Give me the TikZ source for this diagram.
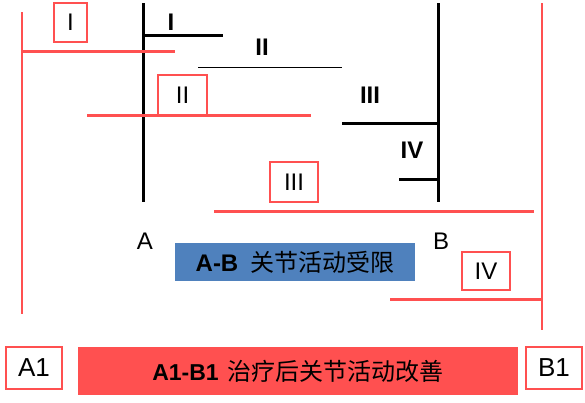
\documentclass[tikz,border=0pt]{standalone}
\usepackage{fontspec}
\setmainfont{Liberation Sans}
\newfontfamily\cjk{Noto Sans CJK SC}
\definecolor{rd}{HTML}{FF5050}
\definecolor{bl}{HTML}{4F81BD}
\begin{document}
\begin{tikzpicture}[x=1pt,y=-1pt,
  blk/.style={line width=3pt},
  thin/.style={line width=1pt},
  rline/.style={draw=rd,line width=3pt},
  rvert/.style={draw=rd,line width=1.5pt},
  rbox/.style={draw=rd,line width=1.3pt,fill=white,inner sep=0pt,font=\fontsize{24}{24}\selectfont},
  blab/.style={font=\fontsize{24}{24}\selectfont\bfseries,inner sep=0pt},
  plab/.style={font=\fontsize{24}{24}\selectfont,inner sep=0pt}]
\useasboundingbox (0,0) rectangle (585,402);
% black structure
\coordinate (At) at (143,3); \coordinate (Ab) at (143,202);
\coordinate (Bt) at (438,3); \coordinate (Bb) at (438,202);
\draw[blk] (At) -- (Ab);
\draw[blk] (Bt) -- (Bb);
\coordinate (I0) at (143,35); \coordinate (I1) at (223,35);
\draw[blk] (I0) -- (I1);
\coordinate (II0) at (198,67); \coordinate (II1) at (342,67);
\draw[thin] (II0) -- (II1);
\coordinate (III0) at (342,123); \coordinate (III1) at (438,123);
\draw[blk] (III0) -- (III1);
\coordinate (IV0) at (399,179); \coordinate (IV1) at (438,179);
\draw[blk] (IV0) -- (IV1);
\node[blab] (lI) at (171,22) {I};
\node[blab] (lII) at (262,47) {II};
\node[blab] (lIII) at (370,95) {III};
\node[blab] (lIV) at (412,150) {IV};
\node[plab] (lA) at (145,241) {A};
\node[plab] (lB) at (441,241) {B};
% red structure
\coordinate (Lt) at (22,12); \coordinate (Lb) at (22,314);
\coordinate (Rt) at (542,3); \coordinate (Rb) at (542,330);
\draw[rvert] (Lt) -- (Lb);
\draw[rvert] (Rt) -- (Rb);
\coordinate (rI0) at (22,51); \coordinate (rI1) at (175,51);
\draw[rline] (rI0) -- (rI1);
\coordinate (rII0) at (87,115); \coordinate (rII1) at (311,115);
\draw[rline] (rII0) -- (rII1);
\coordinate (rIII0) at (214,211); \coordinate (rIII1) at (534,211);
\draw[rline] (rIII0) -- (rIII1);
\coordinate (rIV0) at (390,299); \coordinate (rIV1) at (542,299);
\draw[rline] (rIV0) -- (rIV1);
\node[rbox,minimum width=33pt,minimum height=39pt] (bI) at (70.5,22.5) {I};
\node[rbox,minimum width=49pt,minimum height=40pt] (bII) at (182.5,95) {II};
\node[rbox,minimum width=48pt,minimum height=40pt] (bIII) at (294,182) {III};
\node[rbox,minimum width=48pt,minimum height=38pt] (bIV) at (486,271) {IV};
% blue box
\node[fill=bl,minimum width=240pt,minimum height=38pt,inner sep=0pt,font=\fontsize{24}{24}\selectfont] (ab) at (295,262) {\textbf{A-B}\hspace{12pt}{\cjk 关节活动受限}};
% bottom row
\node[rbox,minimum width=56pt,minimum height=42pt,font=\fontsize{26}{26}\selectfont] (a1) at (34,368) {A1};
\node[fill=rd,minimum width=440pt,minimum height=48pt,inner sep=0pt,font=\fontsize{23}{23}\selectfont] (ab1) at (298,371) {\textbf{A1-B1}\hspace{9pt}{\cjk\fontsize{24}{24}\selectfont 治疗后关节活动改善}};
\node[rbox,minimum width=56pt,minimum height=42pt,font=\fontsize{26}{26}\selectfont] (b1) at (554,368) {B1};
\end{tikzpicture}
\end{document}
